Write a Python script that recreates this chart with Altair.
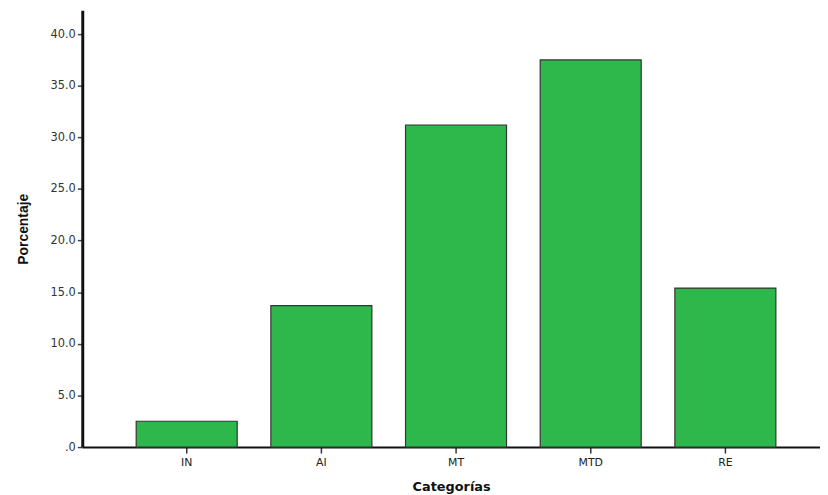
import altair as alt
import pandas as pd

categories = ["IN", "AI", "MT", "MTD", "RE"]
values = [2.5, 13.7, 31.2, 37.5, 15.4]

df = pd.DataFrame({"Categorías": categories, "Porcentaje": values})

bars = alt.Chart(df).mark_bar(
    color="#2eb84c", stroke="#333333", strokeWidth=1.2
).encode(
    x=alt.X(
        "Categorías:N",
        sort=categories,
        scale=alt.Scale(paddingInner=0.25, paddingOuter=0.364, align=0.55),
        axis=alt.Axis(
            title="Categorías", labelAngle=0, labelFont="DejaVu Sans",
            labelFontSize=11, labelColor="#222222", labelPadding=4,
            tickColor="#333333", tickSize=6, tickWidth=1.5,
            domainColor="#111111", domainWidth=2,
            titleFont="DejaVu Sans", titleFontSize=13, titleFontWeight="bold",
            titleColor="#111111", titlePadding=13,
        ),
    ),
    y=alt.Y(
        "Porcentaje:Q",
        scale=alt.Scale(domain=[0, 42.3], nice=False),
        axis=alt.Axis(
            title="Porcentaje", values=[0, 5, 10, 15, 20, 25, 30, 35, 40],
            labelExpr="datum.value == 0 ? '.0' : format(datum.value, '.1f')",
            labelFont="DejaVu Sans", labelFontSize=11.5, labelColor="#333333",
            labelPadding=2, tickColor="#444444", tickSize=5, tickWidth=1.5,
            domainColor="#111111", domainWidth=3, grid=False,
            titleFont="Liberation Sans", titleFontSize=14,
            titleFontWeight="bold", titleColor="#111111", titlePadding=20,
        ),
    ),
).properties(
    width=745,
    height=441,
    background="white",
    autosize=alt.AutoSizeParams(type="none"),
    padding={"left": 75, "top": 0, "right": 0, "bottom": 46},
).configure_view(strokeWidth=0, stroke="transparent")

chart = bars
chart.save("out.html", embed_options={"renderer": "svg", "actions": False})
